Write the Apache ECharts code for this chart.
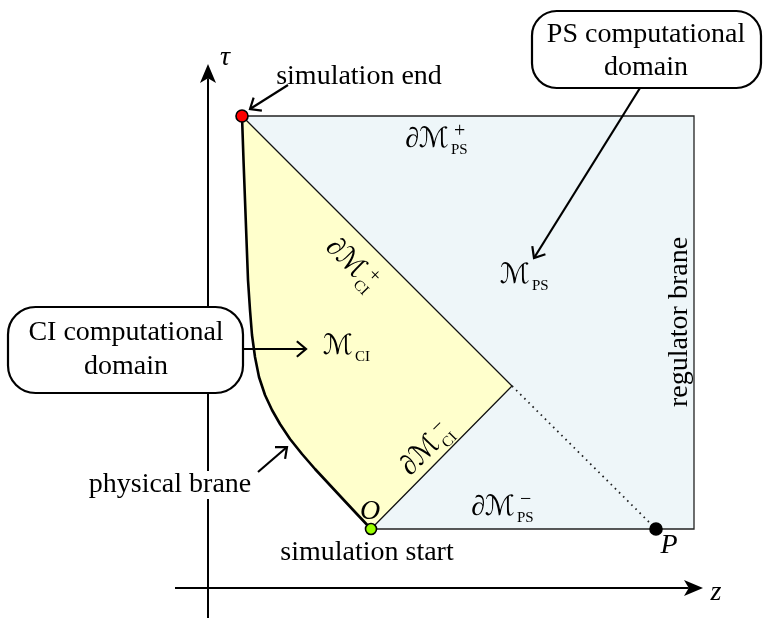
<!DOCTYPE html>
<html>
<head>
<meta charset="utf-8">
<script src="https://cdn.jsdelivr.net/npm/echarts@6/dist/echarts.min.js"></script>
<style>html,body{margin:0;padding:0;background:#fff}</style>
</head>
<body>
<div id="chart" style="width:764px;height:620px"></div>
<script>
// diagram coordinates: z to the right, tau upwards, axes cross at (0, 0)
const zAxisLine = [[-33, 0], [495, 0]];
const tauAxisLine = [[0, -30], [0, 524]];
const psCorners = [[34, 472], [486, 472], [486, 59], [163, 59]];
const braneCurve = [
  [34, 472], [35.5, 428], [37, 388], [38.5, 348], [40, 308], [42, 278],
  [44, 253], [47, 231], [51, 211], [57, 193], [64, 178], [72, 164],
  [82, 149], [94, 134], [107, 119], [120, 105], [133, 91], [147, 76], [163, 59]
];
const ciApex = [304, 202];
const simEnd = [34, 472];
const simStart = [163, 59];
const pointP = [448, 59];
const calloutBoxes = [[[324, 500], [553, 577]], [[-200, 195], [35, 281]]];
const arrows = [
  [[80, 503], [42, 479]],
  [[35, 239], [98, 239]],
  [[432, 500], [326, 330]],
  [[50, 116], [79, 141]]
];
const plainLabels = [
  ['simulation end', 151, 511],
  ['simulation start', 159, 35],
  ['physical brane', -38, 103],
  ['PS computational', 438, 553],
  ['domain', 438, 520],
  ['CI computational', -82, 255],
  ['domain', -82, 221]
];
const italicLabels = [['O', 162, 76], ['P', 461, 42], ['τ', 17, 530], ['z', 508, -5]];
const sideLabel = ['regulator brane', 472, 266];
// main, superscript, subscript, z, tau, angle (deg)
const mathLabels = [
  ['∂ℳ', '+', 'PS', 241, 448, 0],
  ['ℳ', '', 'PS', 322, 312, 0],
  ['ℳ', '', 'CI', 145, 241, 0],
  ['∂ℳ', '−', 'PS', 307, 80, 0],
  ['∂ℳ', '+', 'CI', 153, 314, -45],
  ['∂ℳ', '−', 'CI', 228, 148, 45]
];

const SERIF = "'Liberation Serif', 'DejaVu Serif', serif";
const MATH = "'Liberation Serif', 'DejaVu Serif', 'DejaVu Sans', serif";

const chart = echarts.init(document.getElementById('chart'));

function toPx(list, api) { return list.map(p => api.coord(p)); }

function openHead(from, to, len, ang) {
  const dx = to[0] - from[0], dy = to[1] - from[1];
  const d = Math.hypot(dx, dy), ux = dx / d, uy = dy / d;
  const side = a => [
    to[0] - len * (ux * Math.cos(a) - uy * Math.sin(a)),
    to[1] - len * (ux * Math.sin(a) + uy * Math.cos(a))
  ];
  return [side(ang), to, side(-ang)];
}

function solidHead(from, to, len, w) {
  const dx = to[0] - from[0], dy = to[1] - from[1];
  const d = Math.hypot(dx, dy), ux = dx / d, uy = dy / d;
  const bx = to[0] - len * ux, by = to[1] - len * uy;
  return [to, [bx - uy * w / 2, by + ux * w / 2], [to[0] - len * 0.75 * ux, to[1] - len * 0.75 * uy], [bx + uy * w / 2, by - ux * w / 2]];
}

function layer(items, draw) {
  return {
    type: 'custom',
    coordinateSystem: 'cartesian2d',
    silent: true,
    clip: false,
    data: items.map(() => [0, 0]),
    renderItem: (params, api) => draw(items[params.dataIndex], api)
  };
}

const option = {
  animation: false,
  backgroundColor: '#fff',
  grid: { left: 0, right: 0, top: 0, bottom: 0 },
  xAxis: { type: 'value', min: -208, max: 556, show: false },
  yAxis: { type: 'value', min: -32, max: 588, show: false },
  series: [
    // axes
    layer([zAxisLine, tauAxisLine], (ln, api) => {
      const p = toPx(ln, api);
      const head = solidHead(p[0], p[1], 19, 16);
      return {
        type: 'group', children: [
          { type: 'polyline', shape: { points: [p[0], head[2]] }, style: { stroke: '#000', lineWidth: 2, fill: null } },
          { type: 'polygon', shape: { points: head }, style: { fill: '#000' } }
        ]
      };
    }),
    // PS computational domain
    layer([psCorners], (poly, api) => {
      const p = toPx(poly, api);
      return {
        type: 'group', children: [
          { type: 'polygon', shape: { points: p }, style: { fill: '#EEF6F9', stroke: null } },
          { type: 'polyline', shape: { points: p }, style: { stroke: '#222', lineWidth: 1.3, fill: null } }
        ]
      };
    }),
    // CI computational domain
    layer([braneCurve.concat([ciApex])], (poly, api) => ({
      type: 'polygon', shape: { points: toPx(poly, api) },
      style: { fill: '#FFFFCC', stroke: null }
    })),
    // light-cone edges and dotted continuation
    layer([[simEnd, ciApex, simStart]], (ln, api) => ({
      type: 'group', children: [
        { type: 'polyline', shape: { points: toPx(ln, api) }, style: { stroke: '#111', lineWidth: 1.3, fill: null } },
        { type: 'polyline', shape: { points: toPx([ciApex, pointP], api) }, style: { stroke: '#222', lineWidth: 1.8, lineDash: [1.6, 4.2], fill: null } }
      ]
    })),
    // physical brane
    layer([braneCurve], (ln, api) => ({
      type: 'polyline', shape: { points: toPx(ln, api) },
      style: { stroke: '#000', lineWidth: 2.6, fill: null, lineJoin: 'round' }
    })),
    // callout boxes
    layer(calloutBoxes, (b, api) => {
      const a = api.coord(b[0]), c = api.coord(b[1]);
      const h = Math.abs(a[1] - c[1]);
      return {
        type: 'rect',
        shape: { x: Math.min(a[0], c[0]), y: Math.min(a[1], c[1]), width: Math.abs(c[0] - a[0]), height: h, r: h * 0.32 },
        style: { fill: '#fff', stroke: '#000', lineWidth: 2.2 }
      };
    }),
    // plain text labels
    layer(plainLabels, (l, api) => {
      const p = api.coord([l[1], l[2]]);
      return {
        type: 'text', x: p[0], y: p[1],
        style: { text: l[0], font: '28px ' + SERIF, fill: '#000', align: 'center', verticalAlign: 'middle', backgroundColor: '#fff', padding: [0, 2] }
      };
    }),
    layer([sideLabel], (l, api) => {
      const p = api.coord([l[1], l[2]]);
      return {
        type: 'text', x: p[0], y: p[1], rotation: Math.PI / 2,
        style: { text: l[0], font: '28px ' + SERIF, fill: '#000', align: 'center', verticalAlign: 'middle' }
      };
    }),
    layer(italicLabels, (l, api) => {
      const p = api.coord([l[1], l[2]]);
      return {
        type: 'text', x: p[0], y: p[1],
        style: { text: l[0], font: 'italic 28px ' + SERIF, fill: '#000', align: 'center', verticalAlign: 'middle' }
      };
    }),
    // math labels
    layer(mathLabels, (l, api) => {
      const p = api.coord([l[3], l[4]]);
      const kids = [
        { type: 'text', x: 0, y: 0, style: { text: l[0], font: 'italic 28px ' + MATH, fill: '#000', align: 'right', verticalAlign: 'middle' } },
        { type: 'text', x: 2, y: 10, style: { text: l[2], font: '15px ' + SERIF, fill: '#000', align: 'left', verticalAlign: 'middle' } }
      ];
      if (l[1]) kids.push({ type: 'text', x: 5, y: -8, style: { text: l[1], font: '20px ' + SERIF, fill: '#000', align: 'left', verticalAlign: 'middle' } });
      return { type: 'group', x: p[0], y: p[1], rotation: l[5] * Math.PI / 180, children: kids };
    }),
    // annotation arrows
    layer(arrows, (ar, api) => {
      const p = toPx(ar, api);
      return {
        type: 'group', children: [
          { type: 'polyline', shape: { points: p }, style: { stroke: '#000', lineWidth: 2.2, fill: null } },
          { type: 'polyline', shape: { points: openHead(p[0], p[1], 12, 0.7) }, style: { stroke: '#000', lineWidth: 2.2, fill: null, lineJoin: 'miter' } }
        ]
      };
    }),
    // marked events
    layer([[simEnd, '#FF0000', 6], [simStart, '#99FF00', 5.5], [pointP, '#000', 6]], (d, api) => {
      const p = api.coord(d[0]);
      return { type: 'circle', shape: { cx: p[0], cy: p[1], r: d[2] }, style: { fill: d[1], stroke: '#000', lineWidth: 1.6 } };
    })
  ]
};

chart.setOption(option);
window.addEventListener('resize', () => chart.resize());
</script>
</body>
</html>
